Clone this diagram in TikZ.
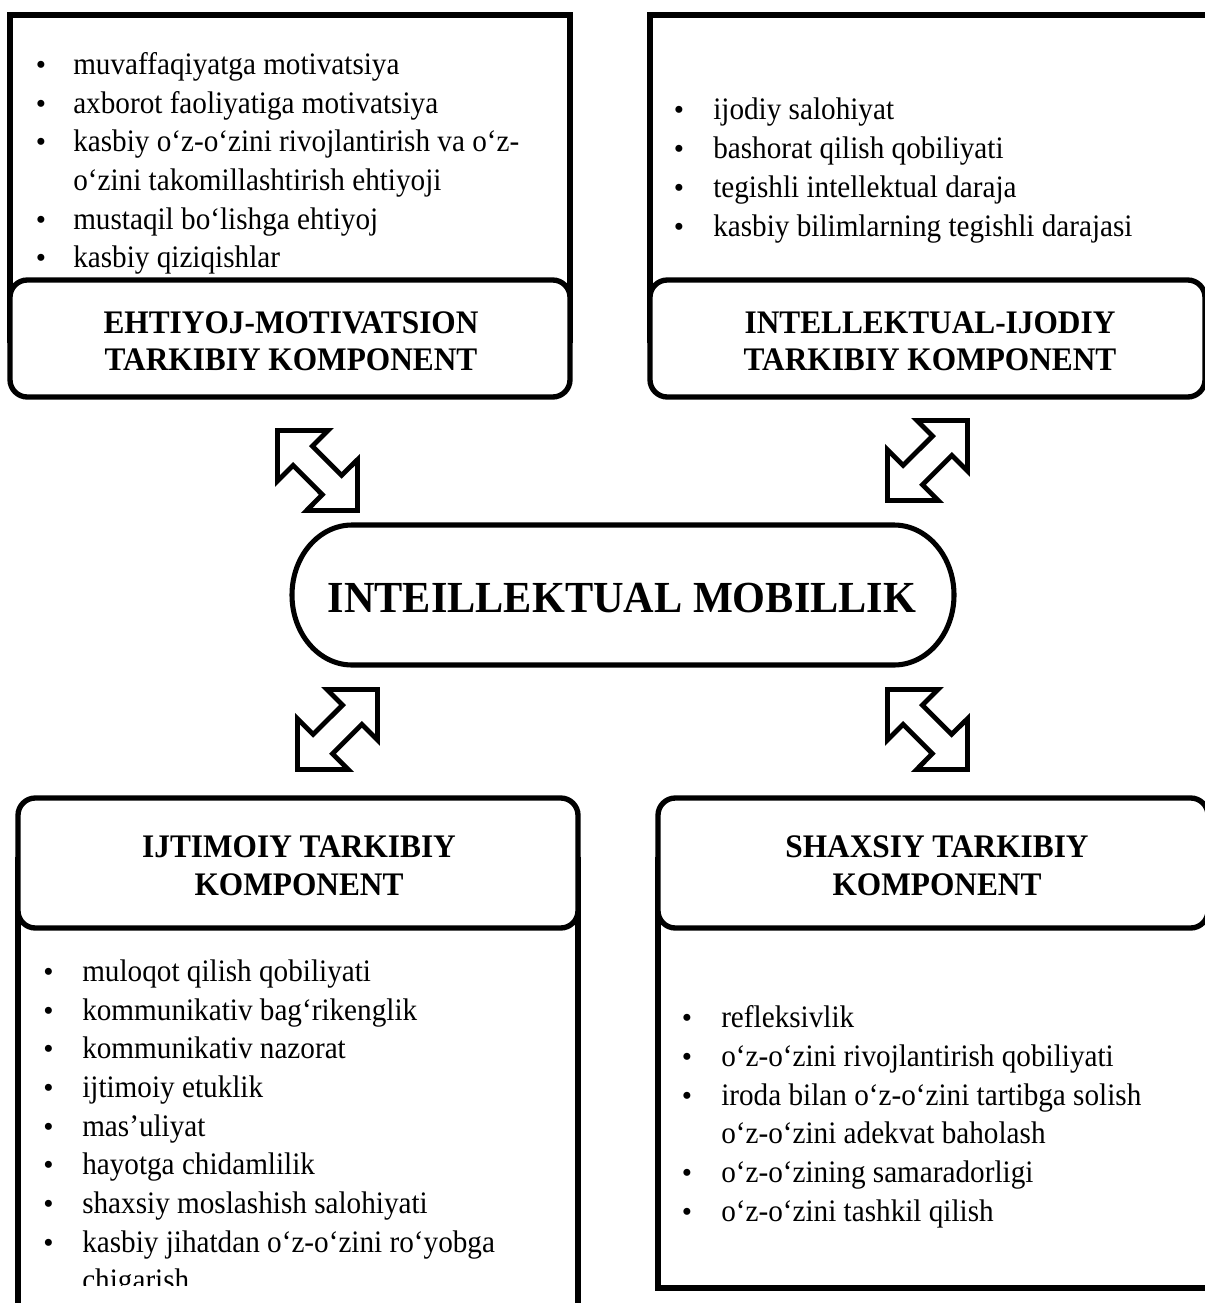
\documentclass[tikz,border=0pt]{standalone}
\usepackage{graphicx}
\usepackage{fontspec}
\setmainfont{Liberation Serif}
\newcommand\tallbox[2][1.07]{\scalebox{1}[#1]{#2}}
\begin{document}
\begin{tikzpicture}[x=0.75pt,y=-0.75pt,
  outerbox/.style={draw, line width=4.5pt},
  titlebox/.style={draw, line width=4pt, rounded corners=13pt, fill=white},
  blockarrow/.style={draw, line width=3.6pt, fill=white, line join=miter},
  stadium/.style={draw, line width=3.8pt},
  itemtext/.style={anchor=base west, inner sep=0pt, font=\fontsize{21.9}{29}\selectfont},
  bulletmark/.style={anchor=base, inner sep=0pt, font=\fontsize{21.9}{29}\selectfont},
  titletext/.style={anchor=base, inner sep=0pt, font=\fontsize{23.5}{27}\selectfont\bfseries},
  centertext/.style={anchor=base, inner sep=0pt, font=\fontsize{31.7}{38}\selectfont\bfseries},
  pics/nwse/.style={code={
    \begin{scope}[scale=0.94]
    \draw[blockarrow] (0,0) -- (53.7,0) -- (37.1,16.6) -- (68.3,47.7) -- (85,31.1) -- (85,85) -- (31.1,85) -- (47.7,68.3) -- (16.6,37.1) -- (0,53.7) -- cycle;
    \end{scope}}},
  pics/nesw/.style={code={
    \begin{scope}[scale=0.94]
    \draw[blockarrow] (85,0) -- (31.3,0) -- (47.9,16.6) -- (16.7,47.7) -- (0,31.1) -- (0,85) -- (53.9,85) -- (37.3,68.3) -- (68.4,37.1) -- (85,53.7) -- cycle;
    \end{scope}}}
]
\useasboundingbox (0,0) rectangle (1205,1303);
\clip (0,0) rectangle (1205,1303);
\fill[white] (0,0) rectangle (1205,1303);

% ---------- top-left component ----------
\draw[outerbox] (10,15) rectangle (570,340);
\draw[titlebox] (10,280) rectangle (570,397);
\foreach \yy/\txt/\bul [count=\i] in {
  74/muvaffaqiyatga motivatsiya/1,
  113/axborot faoliyatiga motivatsiya/1,
  151/kasbiy o‘z-o‘zini rivojlantirish va o‘z-/1,
  190/o‘zini takomillashtirish ehtiyoji/0,
  229/mustaqil bo‘lishga ehtiyoj/1,
  267/kasbiy qiziqishlar/1}{
  \node[itemtext] (tl\i) at (73,\yy) {\tallbox{\txt}};
  \ifnum\bul=1 \node[bulletmark] (tlb\i) at (41,\yy) {•};\fi
}
\node[titletext] (tlt1) at (291,333) {\tallbox[1.05]{EHTIYOJ-MOTIVATSION}};
\node[titletext] (tlt2) at (291,370) {\tallbox[1.05]{TARKIBIY KOMPONENT}};

% ---------- top-right component ----------
\draw[outerbox] (650,15) rectangle (1240,340);
\draw[titlebox] (650,280) rectangle (1205,397);
\foreach \yy/\txt [count=\i] in {
  119/ijodiy salohiyat,
  158/bashorat qilish qobiliyati,
  197/tegishli intellektual daraja,
  236/kasbiy bilimlarning tegishli darajasi}{
  \node[itemtext] (tr\i) at (713,\yy) {\tallbox{\txt}};
  \node[bulletmark] (trb\i) at (679,\yy) {•};
}
\node[titletext] (trt1) at (930,333) {\tallbox[1.05]{INTELLEKTUAL-IJODIY}};
\node[titletext] (trt2) at (930,370) {\tallbox[1.05]{TARKIBIY KOMPONENT}};

% ---------- bottom-left component ----------
\draw[outerbox] (18,860) rectangle (578,1330);
\draw[titlebox] (18,798) rectangle (578,928);
\begin{scope}
\clip (18,940) rectangle (578,1285);
\foreach \yy/\txt/\bul [count=\i] in {
  981/muloqot qilish qobiliyati/1,
  1020/kommunikativ bag‘rikenglik/1,
  1058/kommunikativ nazorat/1,
  1097/ijtimoiy etuklik/1,
  1136/mas’uliyat/1,
  1174/hayotga chidamlilik/1,
  1213/shaxsiy moslashish salohiyati/1,
  1252/kasbiy jihatdan o‘z-o‘zini ro‘yobga/1,
  1290/chigarish/0}{
  \node[itemtext] (bl\i) at (82,\yy) {\tallbox{\txt}};
  \ifnum\bul=1 \node[bulletmark] (blb\i) at (48.5,\yy) {•};\fi
}
\end{scope}
\node[titletext] (blt1) at (299,857) {\tallbox[1.05]{IJTIMOIY TARKIBIY}};
\node[titletext] (blt2) at (299,895) {\tallbox[1.05]{KOMPONENT}};

% ---------- bottom-right component ----------
\draw[outerbox] (658,860) rectangle (1240,1288);
\draw[titlebox] (658,798) rectangle (1208,928);
\foreach \yy/\txt/\bul [count=\i] in {
  1027/refleksivlik/1,
  1066/o‘z-o‘zini rivojlantirish qobiliyati/1,
  1105/iroda bilan o‘z-o‘zini tartibga solish/1,
  1143/o‘z-o‘zini adekvat baholash/0,
  1182/o‘z-o‘zining samaradorligi/1,
  1221/o‘z-o‘zini tashkil qilish/1}{
  \node[itemtext] (br\i) at (721,\yy) {\tallbox{\txt}};
  \ifnum\bul=1 \node[bulletmark] (brb\i) at (687,\yy) {•};\fi
}
\node[titletext] (brt1) at (937,857) {\tallbox[1.05]{SHAXSIY TARKIBIY}};
\node[titletext] (brt2) at (937,895) {\tallbox[1.05]{KOMPONENT}};

% ---------- centre ----------
\draw[stadium] (352,525) -- (894,525)
  arc[start angle=-90,end angle=90,x radius=60,y radius=70] -- (352,665)
  arc[start angle=90,end angle=270,x radius=60,y radius=70] -- cycle;
\node[centertext] (centre) at (622,612) {\tallbox[1.05]{INTEILLEKTUAL MOBILLIK}};

% ---------- double block arrows ----------
\pic (arrTL) at (277.5,430.5) {nwse};
\pic (arrTR) at (887.5,420.5) {nesw};
\pic (arrBL) at (297.5,689.5) {nesw};
\pic (arrBR) at (887.5,689.5) {nwse};
\end{tikzpicture}
\end{document}
